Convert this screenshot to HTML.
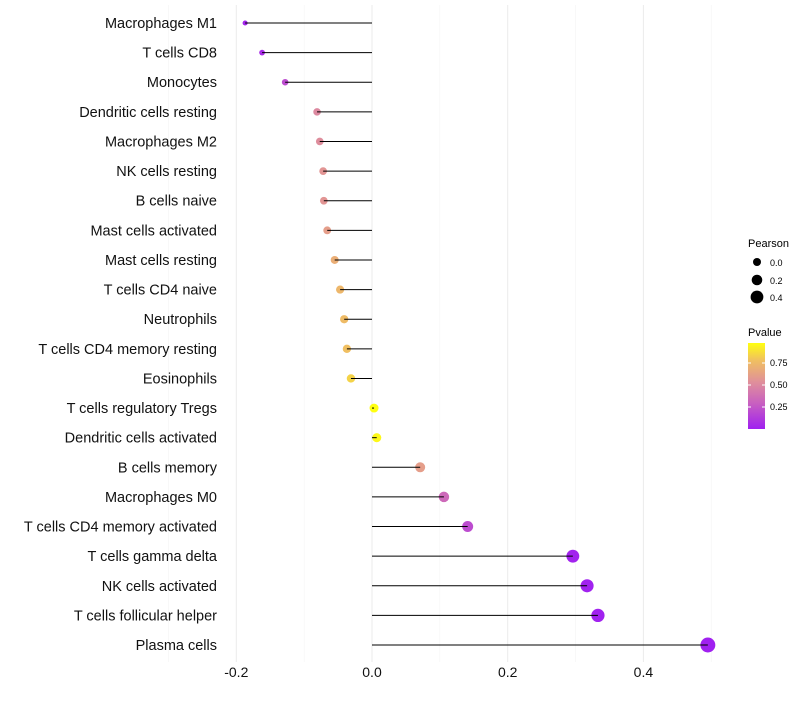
<!DOCTYPE html>
<html><head><meta charset="utf-8"><style>
body{margin:0;background:#fff;font-family:"Liberation Sans",sans-serif}
</style></head><body>
<svg id="c" width="800" height="700" xmlns="http://www.w3.org/2000/svg">
<defs><linearGradient id="pg" x1="0" y1="1" x2="0" y2="0">
<stop offset="0" stop-color="#a020f0"/><stop offset="0.3" stop-color="#c860c0"/><stop offset="0.55" stop-color="#e0909a"/><stop offset="0.8" stop-color="#f0c060"/><stop offset="1" stop-color="#ffff10"/></linearGradient></defs>
<g id="grid"></g><g id="points"></g><g id="stems"></g><g id="labels"></g>
<g font-size="10">
<text x="748" y="247" font-size="11">Pearson</text>
<circle cx="757" cy="262" r="4"/><text x="770" y="266" font-size="9">0.0</text>
<circle cx="757" cy="280" r="5.3"/><text x="770" y="284" font-size="9">0.2</text>
<circle cx="757" cy="297" r="6.4"/><text x="770" y="301" font-size="9">0.4</text>
</g>
<g>
<text x="748" y="336" font-size="11">Pvalue</text>
<rect x="748" y="343" width="17" height="86" fill="url(#pg)"/>
<g stroke="#fff" stroke-width="1"><line x1="748" y1="363" x2="751" y2="363"/><line x1="762" y1="363" x2="765" y2="363"/><line x1="748" y1="385" x2="751" y2="385"/><line x1="762" y1="385" x2="765" y2="385"/><line x1="748" y1="407" x2="751" y2="407"/><line x1="762" y1="407" x2="765" y2="407"/></g>
<text x="770" y="366" font-size="9">0.75</text><text x="770" y="388" font-size="9">0.50</text><text x="770" y="410" font-size="9">0.25</text>
</g>
</svg>
<script>
const categories=["Macrophages M1","T cells CD8","Monocytes","Dendritic cells resting","Macrophages M2","NK cells resting","B cells naive","Mast cells activated","Mast cells resting","T cells CD4 naive","Neutrophils","T cells CD4 memory resting","Eosinophils","T cells regulatory  Tregs","Dendritic cells activated","B cells memory","Macrophages M0","T cells CD4 memory activated","T cells gamma delta","NK cells activated","T cells follicular helper","Plasma cells"];
const pearson=[-0.187,-0.162,-0.128,-0.081,-0.077,-0.072,-0.071,-0.066,-0.055,-0.047,-0.041,-0.037,-0.031,0.003,0.007,0.071,0.106,0.141,0.296,0.317,0.333,0.495];
const pvalue=[0.05,0.08,0.22,0.5,0.52,0.56,0.56,0.6,0.68,0.72,0.74,0.76,0.82,0.95,0.93,0.6,0.35,0.22,0.04,0.035,0.035,0.03];
const xTicks=[-0.2,0,0.2,0.4];
const xTickLabels=["-0.2","0.0","0.2","0.4"];
const NS="http://www.w3.org/2000/svg";
const x=v=>372+v*678.5, y=i=>23+i*29.62;
const pmin=0.028,pmax=0.95;
const stops=[[0,[160,32,240]],[0.3,[200,96,192]],[0.55,[224,144,154]],[0.8,[240,192,96]],[1,[255,255,16]]];
function col(p){let t=Math.max(0,Math.min(1,(p-pmin)/(pmax-pmin)));for(let k=1;k<stops.length;k++){if(t<=stops[k][0]){const a=stops[k-1],b=stops[k],f=(t-a[0])/(b[0]-a[0]);return "rgb("+a[1].map((c,j)=>Math.round(c+(b[1][j]-c)*f)).join(",")+")";}}return "rgb(255,255,16)";}
const rad=v=>Math.sqrt(Math.max(3,20+v*72));
function mk(t,a,p){const e=document.createElementNS(NS,t);for(const k in a)e.setAttribute(k,a[k]);p.appendChild(e);return e;}
const g=document.getElementById('grid'),pts=document.getElementById('points'),st=document.getElementById('stems'),l=document.getElementById('labels');
[-0.3,-0.1,0.1,0.3,0.5].forEach(v=>{const e=mk('line',{x1:x(v),x2:x(v),y1:5,y2:662,stroke:'#f4f4f4','stroke-width':0.6},g);

});
xTicks.forEach((v,i)=>{const e=mk('line',{x1:x(v),x2:x(v),y1:5,y2:662,stroke:'#ebebeb','stroke-width':1},g);


const t=mk('text',{x:x(v),y:677,'text-anchor':'middle','font-size':14,fill:'#111'},l);t.textContent=xTickLabels[i];

});
categories.forEach((c,i)=>{
const ci=mk('circle',{cx:x(pearson[i]),cy:y(i),r:rad(pearson[i]),fill:col(pvalue[i])},pts);


const ln=mk('line',{x1:x(0),x2:x(pearson[i]),y1:y(i),y2:y(i),stroke:'#000','stroke-width':1},st);


const t=mk('text',{x:217,y:y(i)+5,'text-anchor':'end','font-size':14.5,fill:'#111'},l);t.textContent=c;

});
</script>
</body></html>
